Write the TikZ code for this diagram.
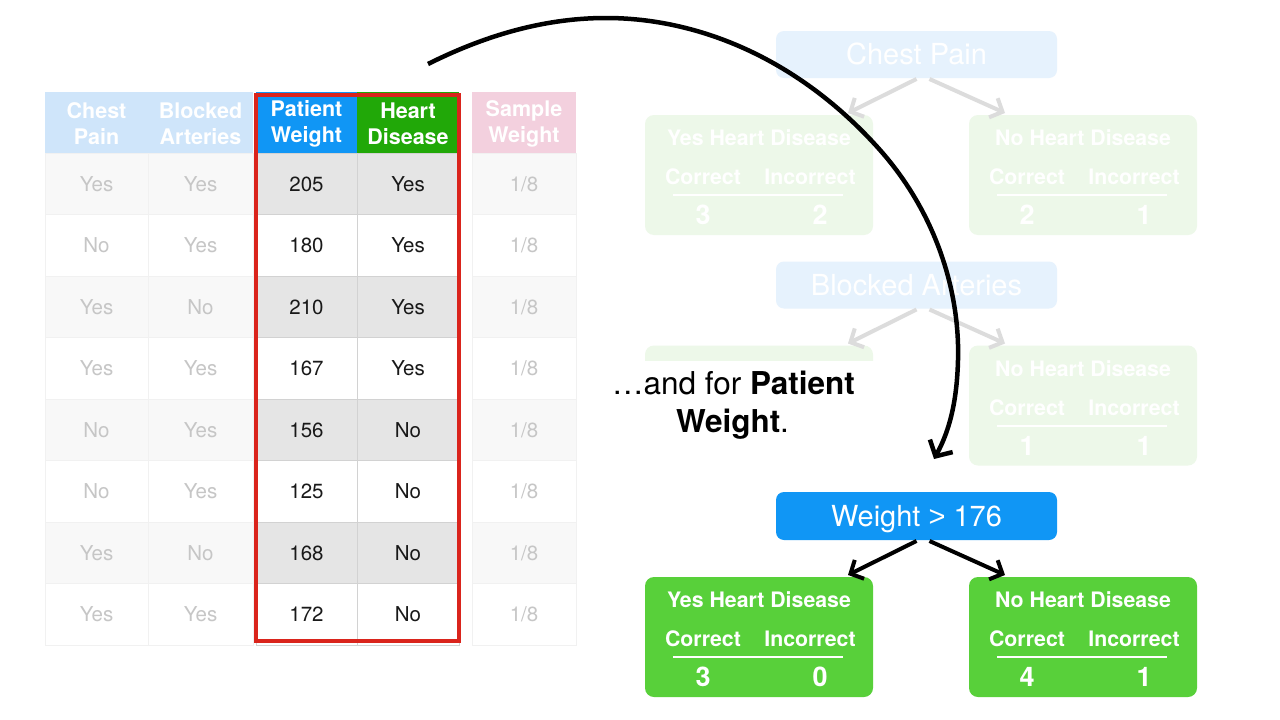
\documentclass[tikz,border=0pt]{standalone}
\usepackage{fontspec}
\setmainfont{TeX Gyre Heros}
\newfontfamily\gtfont{Liberation Sans}
\usetikzlibrary{arrows.meta,calc}

\definecolor{pwBlue}{RGB}{16,150,245}
\definecolor{hdGreen}{RGB}{33,168,8}
\definecolor{leafGreen}{RGB}{88,208,58}
\definecolor{redBox}{RGB}{218,36,28}
\definecolor{fadeHdr}{RGB}{207,229,250}
\definecolor{fadePink}{RGB}{243,208,222}
\definecolor{fadeRoot}{RGB}{230,242,253}
\definecolor{fadeLeaf}{RGB}{237,248,233}
\definecolor{fadeArrow}{RGB}{220,220,220}
\definecolor{fadeText}{RGB}{198,198,198}
\definecolor{mainText}{RGB}{25,25,25}
\definecolor{rowGray}{RGB}{229,229,229}
\definecolor{rowFaint}{RGB}{248,248,248}
\definecolor{gridGray}{RGB}{210,210,210}
\definecolor{gridFaint}{RGB}{241,241,241}

% one leaf of a tree: name, centre x, centre y, fill, title, correct, incorrect
\newcommand\leafnode[7]{%
  \node[leafbox, fill=#4] (#1) at (#2,#3) {};
  \node[leaftitle] (#1-title) at ($(#1.center)+(0,-29.5)$) {#5};
  \node[leaftitle] (#1-c) at ($(#1.center)+(-56,9.5)$) {Correct};
  \node[leaftitle] (#1-i) at ($(#1.center)+(51,9.5)$) {Incorrect};
  \draw[white, line width=2pt] ($(#1.center)+(-86,20)$) -- ($(#1.center)+(84,20)$);
  \node[leafnum] (#1-nc) at ($(#1.center)+(-56,49.7)$) {#6};
  \node[leafnum] (#1-ni) at ($(#1.center)+(61,49.7)$) {#7};
}

\begin{document}
\begin{tikzpicture}[x=1pt,y=-1pt,
  every node/.style={inner sep=0pt, outer sep=0pt},
  cell/.style={minimum height=61.5pt, text height=14.6pt, text depth=0pt,
    line width=1pt, font=\fontsize{20.5}{24}\selectfont},
  fadecell/.style={cell, draw=gridFaint, text=fadeText},
  maincell/.style={cell, draw=gridGray, text=mainText},
  hdrcell/.style={minimum height=61pt, align=center, text=white,
    font=\bfseries\fontsize{21.5}{26}\selectfont},
  rootbox/.style={rounded corners=8pt, minimum width=281pt, minimum height=47pt,
    text=white, text height=20.5pt, text depth=0pt, font=\fontsize{29}{33}\selectfont},
  leafbox/.style={rounded corners=9pt, minimum width=228pt, minimum height=120pt},
  leaftitle/.style={anchor=base, text=white, font=\bfseries\fontsize{21.3}{24}\selectfont},
  leafnum/.style={anchor=base, text=white, font=\bfseries\fontsize{27}{30}\selectfont},
  treearrow/.style={line width=4pt, -{Straight Barb[length=10pt,width=21pt]}},
  fadearrow/.style={treearrow, draw=fadeArrow},
  solidarrow/.style={treearrow, draw=black},
  redframe/.style={draw=redBox, line width=4pt},
  captiontext/.style={anchor=base, text=black, font=\fontsize{31.5}{36}\selectfont},
  bigarrow/.style={line width=4.5pt, -{Straight Barb[length=12pt,width=26pt]}}
]
\useasboundingbox[fill=white] (0,0) rectangle (1280,720);

% ---- table header ----
\node[hdrcell, minimum width=103pt, fill=fadeHdr] (h-cp) at (96.5,122.5) {};
\node[hdrcell, minimum width=105pt, fill=fadeHdr] (h-ba) at (200.5,122.5) {};
\node[hdrcell, minimum width=101pt, fill=pwBlue] (h-pw) at (306.5,122.5) {};
\node[hdrcell, minimum width=102pt, fill=hdGreen] (h-hd) at (408,122.5) {};
\node[hdrcell, minimum width=104pt, fill=fadePink] (h-sw) at (524,122.5) {};
\foreach \c/\t in {cp/Chest\\Pain, ba/Blocked\\Arteries, pw/Patient\\Weight,
    hd/Heart\\Disease, sw/Sample\\Weight}
  \node[hdrcell, minimum height=0pt] (h-\c-text) at ($(h-\c.center)+(0,1.5)$) {\t};

% ---- table body ----
\foreach \cp/\ba/\pw/\hd [count=\r] in {Yes/Yes/205/Yes, No/Yes/180/Yes, Yes/No/210/Yes,
    Yes/Yes/167/Yes, No/Yes/156/No, No/Yes/125/No, Yes/No/168/No, Yes/Yes/172/No}{
  \pgfmathsetmacro\yc{153+(\r-0.5)*61.5}
  \ifodd\r\relax \def\fa{rowFaint}\def\fb{rowGray}\else \def\fa{white}\def\fb{white}\fi
  \node[fadecell, minimum width=103pt, fill=\fa] (cp-\r) at (96.5,\yc) {\cp};
  \node[fadecell, minimum width=105pt, fill=\fa] (ba-\r) at (200.5,\yc) {\ba};
  \node[maincell, minimum width=101pt, fill=\fb] (pw-\r) at (306.5,\yc) {\pw};
  \node[maincell, minimum width=102pt, fill=\fb] (hd-\r) at (408,\yc) {\hd};
  \node[fadecell, minimum width=104pt, fill=\fa] (sw-\r) at (524,\yc) {1/8};
}

% frame round the two highlighted columns
\draw[redframe] (256,95) rectangle (459,641);

% ---- faded tree: Chest Pain ----
\node[rootbox, fill=fadeRoot] (root-cp) at (916.5,54.5) {Chest Pain};
\leafnode{cp-yes}{759}{175}{fadeLeaf}{Yes Heart Disease}{3}{2}
\leafnode{cp-no}{1083}{175}{fadeLeaf}{No Heart Disease}{2}{1}
\draw[fadearrow] ($(root-cp.south)+(0,1)$) -- ($(cp-yes.north east)+(-25,-2)$);
\draw[fadearrow] ($(root-cp.south)+(13,1)$) -- ($(cp-no.north west)+(36,-2)$);

% ---- faded tree: Blocked Arteries ----
\node[rootbox, fill=fadeRoot] (root-ba) at (916.5,285) {Blocked Arteries};
\node[leafbox, fill=fadeLeaf] (ba-yes) at (759,405.5) {};
\leafnode{ba-no}{1083}{405.5}{fadeLeaf}{No Heart Disease}{1}{1}
\draw[fadearrow] ($(root-ba.south)+(0,1)$) -- ($(ba-yes.north east)+(-25,-2)$);
\draw[fadearrow] ($(root-ba.south)+(13,1)$) -- ($(ba-no.north west)+(36,-2)$);

% ---- caption ----
\node[fill=white, minimum width=281pt, minimum height=108pt] (capbg) at (737,415) {};
\node[captiontext] (cap1) at (733.5,394) {…and for \textbf{Patient}};
\node[captiontext] (cap2) at (732.5,432) {\textbf{Weight}.};

% ---- tree: Weight > 176 ----
\node[rootbox, fill=pwBlue, minimum height=48pt] (root-w) at (916.5,516) {Weight {\gtfont >} 176};
\leafnode{w-yes}{759}{637}{leafGreen}{Yes Heart Disease}{3}{0}
\leafnode{w-no}{1083}{637}{leafGreen}{No Heart Disease}{4}{1}
\draw[solidarrow] ($(root-w.south)+(0,1)$) -- ($(w-yes.north east)+(-25,-2)$);
\draw[solidarrow] ($(root-w.south)+(13,1)$) -- ($(w-no.north west)+(36,-2)$);

% ---- sweeping arrow ----
\coordinate (arcstart) at (428,64);
\coordinate (arcend) at (934,459);
\draw[bigarrow] (arcstart) .. controls (480,38) and (540,18) .. (606,18)
  .. controls (700,18) and (800,60) .. (880,150)
  .. controls (935,212) and (960,290) .. (958,360)
  .. controls (957,400) and (950,430) .. (arcend);
\end{tikzpicture}
\end{document}
